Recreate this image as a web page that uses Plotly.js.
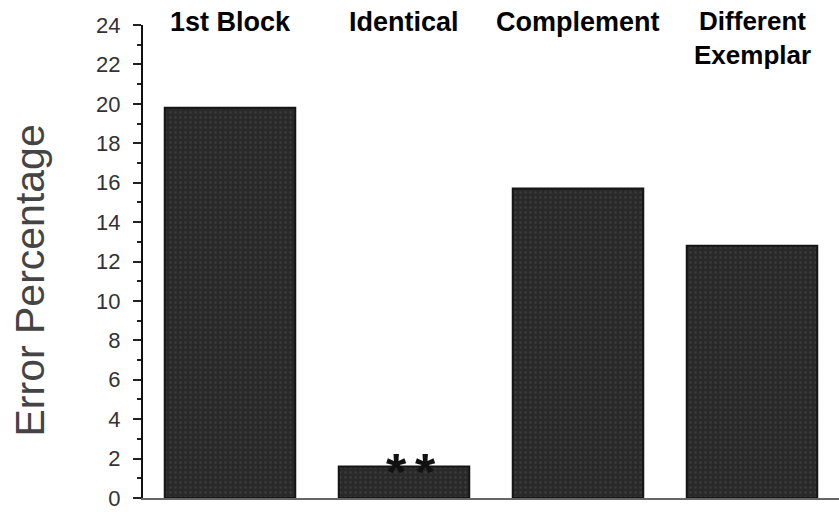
<!DOCTYPE html>
<html>
<head>
<meta charset="utf-8">
<script src="https://cdn.plot.ly/plotly-3.0.1.min.js"></script>
<style>html,body{margin:0;padding:0;background:#fff;}#chart{width:839px;height:512px;}</style>
</head>
<body>
<div id="chart"></div>
<script>
const categories = ['1st Block', 'Identical', 'Complement', 'Different Exemplar'];
const labelText = ['1st Block', 'Identical', 'Complement', 'Different<br>Exemplar'];
const errorPct = [19.8, 1.6, 15.7, 12.8];
const yTickVals = [0, 2, 4, 6, 8, 10, 12, 14, 16, 18, 20, 22, 24];
const sigMarks = ['', '**', '', ''];
const yTitle = 'Error Percentage';

const trace = {
  type: 'bar',
  x: categories,
  y: errorPct,
  marker: {
    color: '#2c2c2c',
    line: {color: '#151515', width: 2},
    pattern: {shape: '.', fgcolor: '#383838', bgcolor: '#292929', size: 5, solidity: 0.25}
  },
  hoverinfo: 'skip'
};

const annotations = [];
labelText.forEach((t, i) => {
  const multi = t.indexOf('<br>') >= 0;
  annotations.push({
    x: categories[i], xref: 'x', y: 1, yref: 'paper',
    yanchor: 'middle', yshift: multi ? -13 : 3,
    text: t, showarrow: false, align: 'center',
    font: {family: 'Liberation Sans, Arial, sans-serif', size: multi ? 26 : 27, color: '#000', weight: 'bold'}
  });
});
sigMarks.forEach((s, i) => {
  const chars = s.split('');
  chars.forEach((c, k) => {
    annotations.push({
      x: categories[i], xref: 'x', y: errorPct[i], yref: 'y',
      yanchor: 'middle', xshift: 7 + (k - (chars.length - 1) / 2) * 29, yshift: -6,
      text: c, showarrow: false,
      font: {family: 'Liberation Sans, Arial, sans-serif', size: 52, color: '#111', weight: 'bold'}
    });
  });
});
annotations.push({
  x: 0, xref: 'paper', y: 0.5, yref: 'paper',
  xanchor: 'center', yanchor: 'middle', xshift: -114, yshift: -19,
  textangle: -90, text: yTitle, showarrow: false,
  font: {family: 'Liberation Sans, Arial, sans-serif', size: 41, color: '#444'}
});

const layout = {
  width: 839, height: 512,
  margin: {l: 143, r: 0, t: 25, b: 14},
  paper_bgcolor: '#fff', plot_bgcolor: '#fff',
  showlegend: false,
  bargap: 0.25,
  xaxis: {
    type: 'category', range: [-0.5, 3.5],
    showticklabels: false, ticks: '',
    showline: true, linecolor: '#666', linewidth: 2,
    showgrid: false, zeroline: false, fixedrange: true
  },
  yaxis: {
    range: [0, 24], tickvals: yTickVals,
    ticks: 'outside', ticklen: 8, tickwidth: 2, tickcolor: '#222',
    ticklabelstandoff: 8,
    minor: {dtick: 1, ticks: 'outside', ticklen: 4, tickwidth: 2, tickcolor: '#222', showgrid: false},
    showline: true, linecolor: '#111', linewidth: 2,
    showgrid: false, zeroline: false,
    tickfont: {family: 'Liberation Sans, Arial, sans-serif', size: 22, color: '#333'},
    fixedrange: true
  },
  annotations: annotations
};

Plotly.newPlot('chart', [trace], layout, {displayModeBar: false, staticPlot: true});
</script>
</body>
</html>
